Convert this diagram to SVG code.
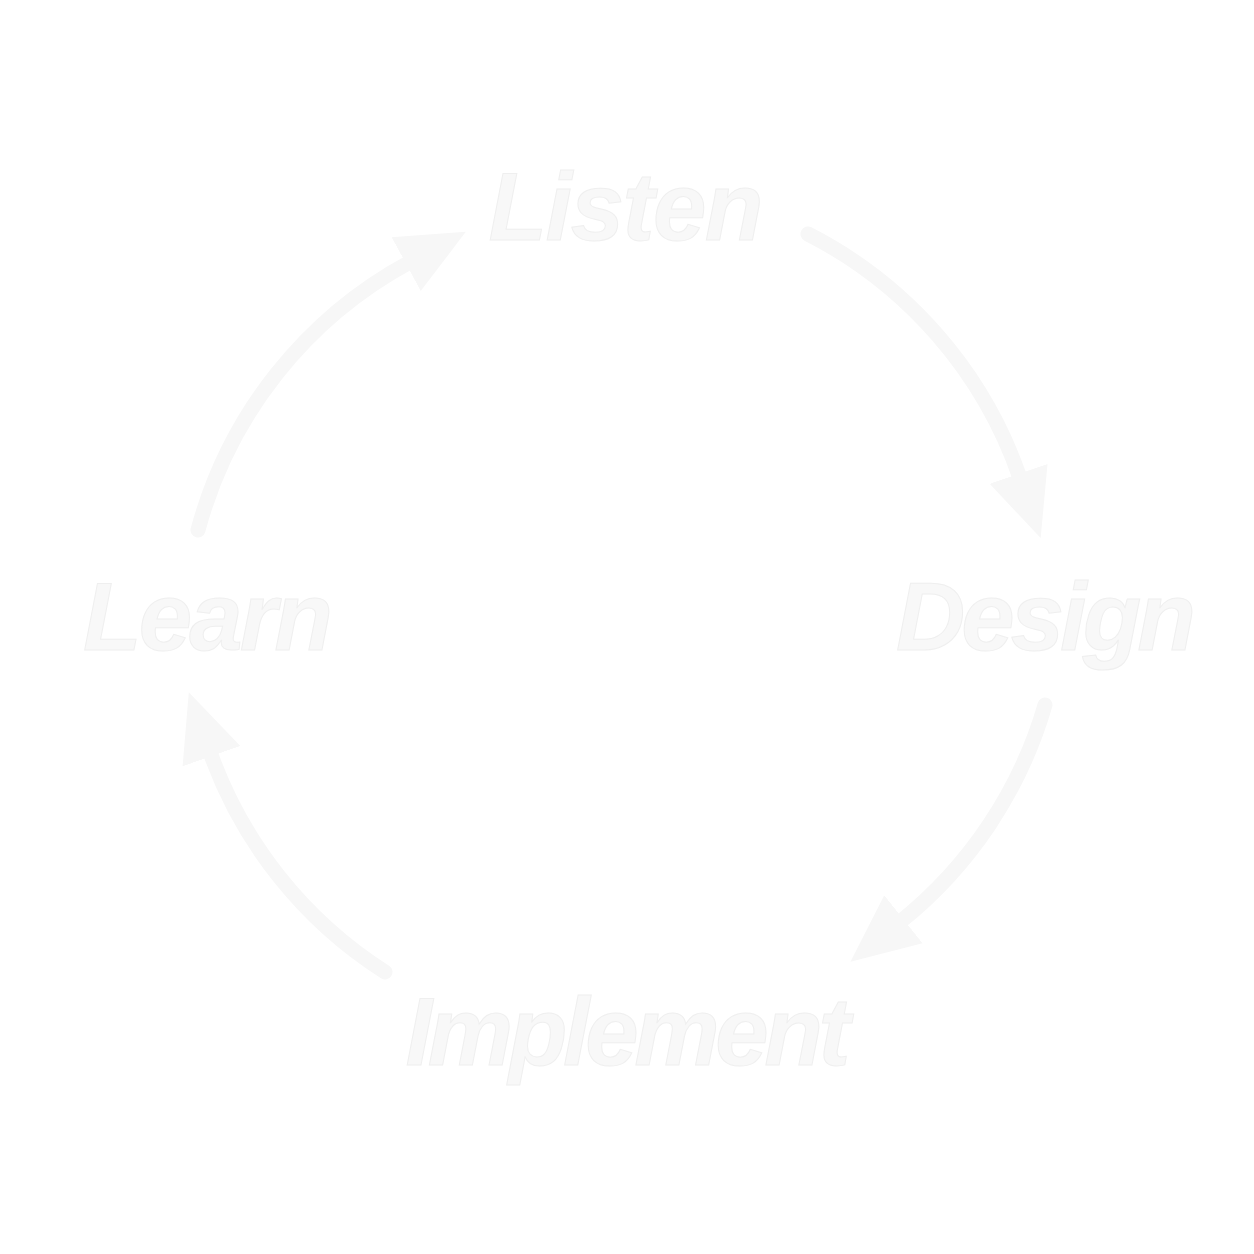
<svg xmlns="http://www.w3.org/2000/svg" width="1254" height="1254" viewBox="0 0 1254 1254">
<style>
.lbl{font-family:"Liberation Sans",Arial,sans-serif;font-weight:bold;font-style:italic;font-size:96px;fill:#f8f8f8;stroke:#efefef;stroke-width:1}
.arc{fill:none;stroke:#f7f7f7;stroke-width:15;stroke-linecap:round}
</style>
<defs>
<marker id="ah" markerUnits="userSpaceOnUse" markerWidth="70" markerHeight="70" refX="4" refY="32" orient="auto" viewBox="0 0 64 64">
<path d="M0,4 L62,32 L0,60 Z" fill="#f7f7f7"/>
</marker>
</defs>
<rect width="1254" height="1254" fill="#ffffff"/>
<g id="connectors">
<path class="arc" d="M198,530 A432,432 0 0 1 410,262" marker-end="url(#ah)"/>
<path class="arc" d="M808,234 A432,432 0 0 1 1020,478" marker-end="url(#ah)"/>
<path class="arc" d="M1045,705 A432,432 0 0 1 900,922" marker-end="url(#ah)"/>
<path class="arc" d="M385,972 A432,432 0 0 1 210,752" marker-end="url(#ah)"/>
</g>
<g id="listen"><text class="lbl" x="626" y="240" text-anchor="middle" textLength="275">Listen</text></g>
<g id="design"><text class="lbl" x="1046" y="650" text-anchor="middle" textLength="300">Design</text></g>
<g id="implement"><text class="lbl" x="628" y="1065" text-anchor="middle" textLength="445">Implement</text></g>
<g id="learn"><text class="lbl" x="208" y="650" text-anchor="middle" textLength="250">Learn</text></g>
</svg>
